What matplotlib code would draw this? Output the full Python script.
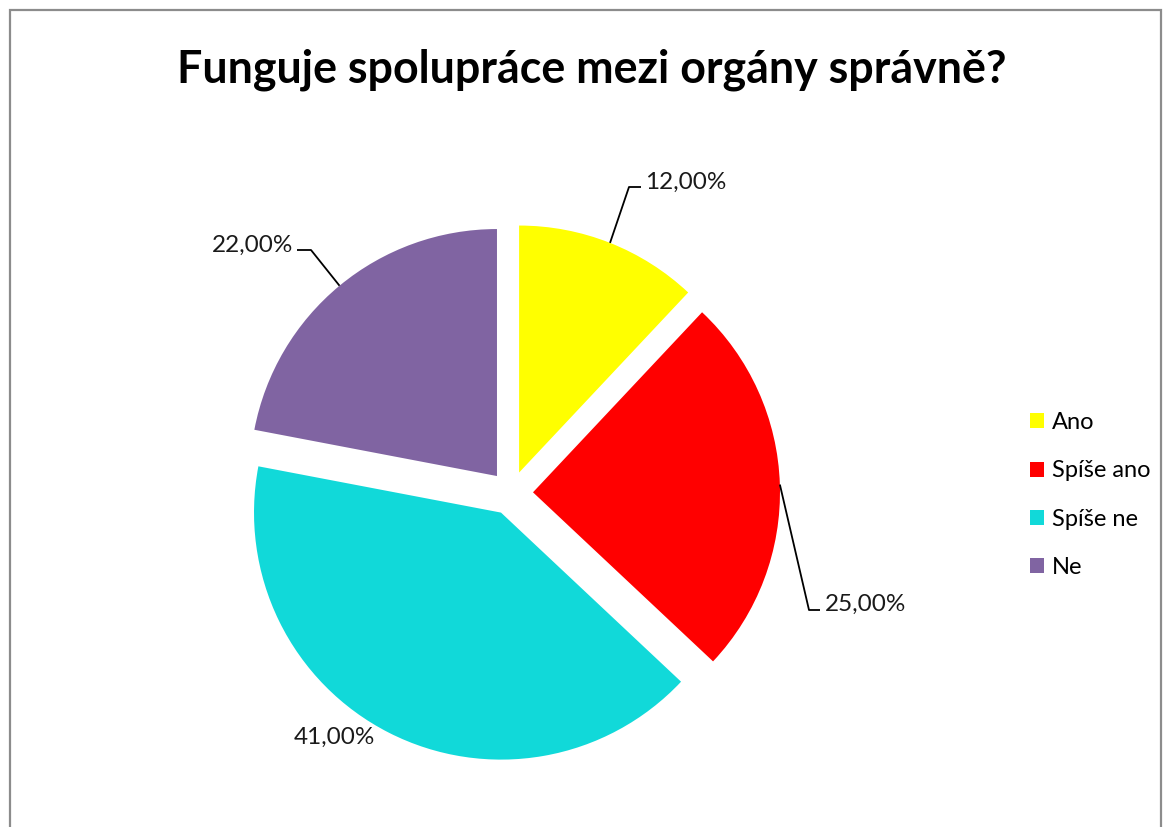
import numpy as np
import matplotlib
matplotlib.use("Agg")
import matplotlib.pyplot as plt
from matplotlib.patches import Rectangle

categories = ["Ano", "Spíše ano", "Spíše ne", "Ne"]
values = [12.0, 25.0, 41.0, 22.0]
colors = ["#FFFF00", "#FF0000", "#11D9D9", "#8064A2"]
title = "Funguje spolupráce mezi orgány správně?"

W, H = 1167, 827
fig = plt.figure(figsize=(W / 100, H / 100), dpi=100)
ax = fig.add_axes([0, 0, 1, 1])
ax.set_xlim(0, W)
ax.set_ylim(0, H)
ax.set_aspect("equal")
ax.axis("off")

plt.rcParams["font.family"] = ["Lato", "DejaVu Sans"]

center = (511, H - 493)
radius = 247
explode_px = 22
wedges, _ = ax.pie(values, colors=colors, startangle=90, counterclock=False,
                   center=center, radius=radius,
                   explode=[explode_px] * len(values),
                   wedgeprops=dict(linewidth=0))
ax.set_xlim(0, W)
ax.set_ylim(0, H)

# label layout (pixel positions, y from top): elbow, end of horizontal, text pos, ha
layout = [
    ((629, 187), (641, 187), (645, 182), "left"),
    ((809, 610), (820, 610), (825, 604), "left"),
    (None, None, (334, 737), "center"),
    ((311, 250), (297, 250), (293, 245), "right"),
]
for w, v, (elb, end, tp, ha) in zip(wedges, values, layout):
    mid = np.deg2rad((w.theta1 + w.theta2) / 2)
    cx, cy = w.center
    ax_pt = (cx + w.r * np.cos(mid), cy + w.r * np.sin(mid))
    if elb is not None:
        ax.plot([ax_pt[0], elb[0], end[0]], [ax_pt[1], H - elb[1], H - end[1]],
                color="black", lw=1.3, solid_capstyle="butt")
    ax.text(tp[0], H - tp[1], f"{v:.2f}".replace(".", ",") + "%", ha=ha, va="center",
            fontsize=17.5, color="#1a1a1a")

ax.text(592, H - 70, title, ha="center", va="center", fontsize=32.2, fontweight="bold",
        color="black")

fig.legend(wedges, categories, loc="center left", bbox_to_anchor=(1009 / W, 1 - 495 / H),
           frameon=False, fontsize=17, handlelength=0.6, handleheight=0.6,
           handletextpad=0.3, labelspacing=1.15)

fig.patches.append(Rectangle((10 / W, -0.05), (1161 - 10) / W, (H - 10) / H + 0.05,
                             transform=fig.transFigure, fill=False,
                             edgecolor="#8c8c8c", linewidth=1.6))

fig.savefig("out.png", dpi=100, facecolor="white")
